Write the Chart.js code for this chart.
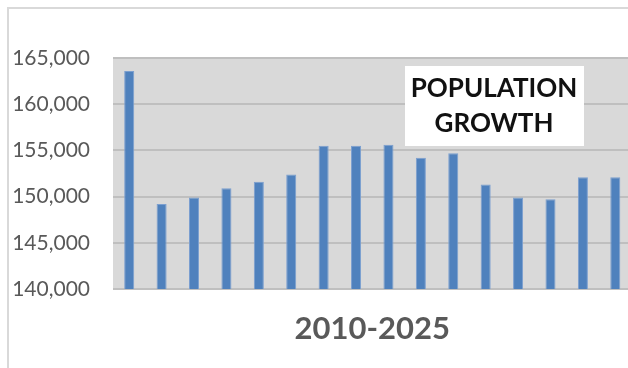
<!DOCTYPE html>
<html>
<head>
<meta charset="utf-8">
<title>Population Growth</title>
<script src="https://cdn.jsdelivr.net/npm/chart.js@4"></script>
<style>
  html, body { margin: 0; padding: 0; background: #fff; overflow: hidden; }
  #wrap { position: relative; width: 640px; height: 368px; }
  #frame {
    position: absolute; left: 7px; top: 7px; width: 700px; height: 500px;
    border-top: 2px solid #d9d9d9; border-left: 2px solid #d9d9d9;
  }
  canvas { position: absolute; left: 0; top: 0; }
</style>
</head>
<body>
<div id="wrap">
  <div id="frame"></div>
  <canvas id="popChart" width="640" height="368"></canvas>
</div>
<script>
"use strict";

// yearly figures
var years = ['2010', '2011', '2012', '2013', '2014', '2015', '2016', '2017',
             '2018', '2019', '2020', '2021', '2022', '2023', '2024', '2025'];
var population = [163600, 149200, 149900, 150900, 151600, 152400, 155500, 155500,
                  155600, 154200, 154700, 151300, 149900, 149700, 152100, 152100];
var yTicks = [140000, 145000, 150000, 155000, 160000, 165000];
var titleLines = ['POPULATION', 'GROWTH'];
var axisTitle = '2010-2025';

// gray plot background
var plotBg = {
  id: 'plotBg',
  beforeDraw: function (chart) {
    var a = chart.chartArea, ctx = chart.ctx;
    ctx.save();
    ctx.fillStyle = '#d9d9d9';
    ctx.fillRect(a.left, a.top, a.right - a.left, a.bottom - a.top);
    ctx.restore();
  }
};

// white title box inside the plot
var titleBox = {
  id: 'titleBox',
  afterDraw: function (chart) {
    var ctx = chart.ctx;
    ctx.save();
    ctx.fillStyle = '#ffffff';
    ctx.fillRect(405, 66, 179, 80);
    ctx.fillStyle = '#111111';
    ctx.font = 'bold 26px Lato';
    ctx.textAlign = 'center';
    ctx.textBaseline = 'middle';
    ctx.fillText(titleLines[0], 494, 89);
    ctx.fillText(titleLines[1], 494, 124);
    ctx.restore();
  }
};

const ctx1 = document.getElementById('popChart');

new Chart(ctx1, {
  type: 'bar',
  data: {
    labels: years,
    datasets: [{
      label: 'Population',
      data: population,
      backgroundColor: '#4f81bd',
      borderColor: '#7b9fd0',
      borderWidth: 1,
      barPercentage: 0.31,
      categoryPercentage: 1
    }]
  },
  options: {
    responsive: false,
    animation: false,
    layout: { padding: { top: 58, right: 8.5, left: 0, bottom: 0 } },
    plugins: {
      legend: { display: false },
      tooltip: { enabled: false }
    },
    scales: {
      x: {
        grid: { display: false },
        border: { display: false },
        ticks: { display: false },
        title: {
          display: true,
          text: axisTitle,
          color: '#595959',
          font: { family: 'Lato', size: 31, weight: 'bold' },
          padding: { top: 0, bottom: 20 }
        },
        afterFit: function (scale) { scale.height = 79; }
      },
      y: {
        min: 140000,
        max: 165000,
        afterBuildTicks: function (scale) {
          scale.ticks = yTicks.map(function (v) { return { value: v }; });
        },
        grid: { color: '#bfbfbf', lineWidth: 2, drawTicks: false },
        border: { display: false },
        ticks: {
          color: '#595959',
          font: { family: 'Lato', size: 21 },
          padding: 23,
          callback: function (v) { return v.toLocaleString('en-US'); }
        },
        afterFit: function (scale) { scale.width = 113; }
      }
    }
  },
  plugins: [plotBg, titleBox]
});
</script>
</body>
</html>
